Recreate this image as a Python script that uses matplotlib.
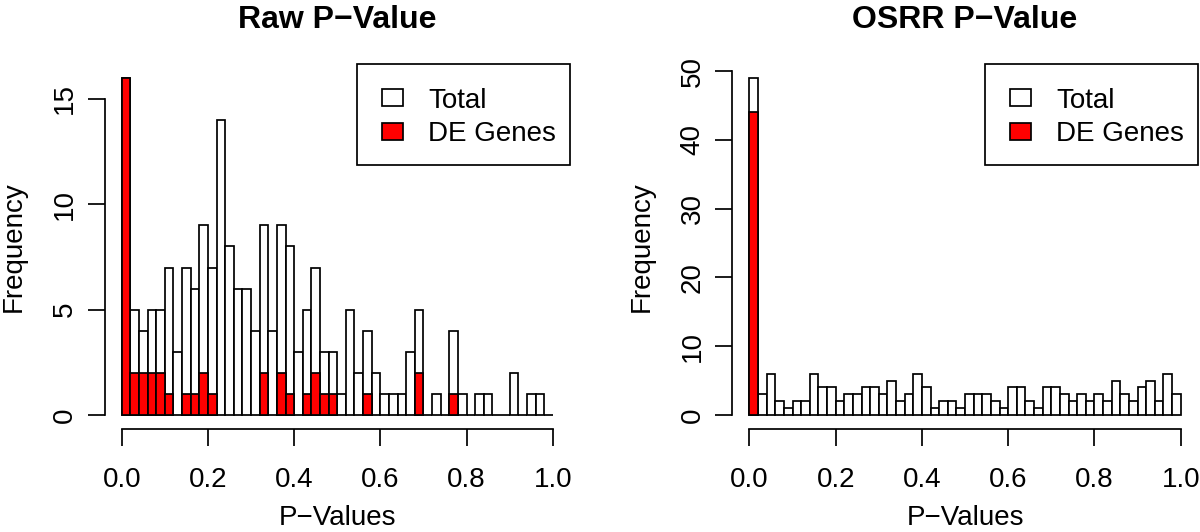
import numpy as np
import matplotlib
matplotlib.use("Agg")
import matplotlib.pyplot as plt
from matplotlib.patches import Rectangle
from matplotlib.transforms import ScaledTranslation, Affine2D
from matplotlib.ticker import FormatStrFormatter

plt.rcParams['font.family'] = ['Liberation Sans', 'DejaVu Sans']

# ---------------- data ----------------
bin_width = 0.02
bin_left = np.round(np.arange(50) * bin_width, 2)

raw_total = [16, 5, 4, 5, 5, 7, 3, 7, 6, 9, 7, 14, 8, 6, 6, 4, 9, 4, 9, 8,
             3, 5, 7, 3, 3, 1, 5, 2, 4, 2, 1, 1, 1, 3, 5, 0, 1, 0, 4, 1,
             0, 1, 1, 0, 0, 2, 0, 1, 1, 0]
raw_de = [16, 2, 2, 2, 2, 1, 0, 1, 1, 2, 1, 0, 0, 0, 0, 0, 2, 0, 2, 1,
          0, 1, 2, 1, 1, 0, 0, 0, 1, 0, 0, 0, 0, 0, 2, 0, 0, 0, 1, 0,
          0, 0, 0, 0, 0, 0, 0, 0, 0, 0]

osrr_total = [49, 3, 6, 2, 1, 2, 2, 6, 4, 4, 2, 3, 3, 4, 4, 3, 5, 2, 3, 6,
              4, 1, 2, 2, 1, 3, 3, 3, 2, 1, 4, 4, 2, 1, 4, 4, 3, 2, 3, 2,
              3, 2, 5, 3, 2, 4, 5, 2, 6, 3]
osrr_de = [44] + [0] * 49

titles = ["Raw P\u2212Value", "OSRR P\u2212Value"]
xlabel = "P\u2212Values"
ylabel = "Frequency"
legend_labels = ["Total", "DE Genes"]
legend_colors = ["white", "#FF0000"]
xticks = [0.0, 0.2, 0.4, 0.6, 0.8, 1.0]
yticks_list = [[0, 5, 10, 15], [0, 10, 20, 30, 40, 50]]

# ---------------- figure ----------------
W, H = 1200, 532
fig = plt.figure(figsize=(W / 100, H / 100), dpi=100)

ax_bottom = (H - 428.5) / H
ax_height = (428.5 - 64.4) / H
ax1 = fig.add_axes([104.5 / W, ax_bottom, 465.5 / W, ax_height])
ax2 = fig.add_axes([732.2 / W, ax_bottom, 465.8 / W, ax_height])

LW = 1.25
FS = 20


def corner_trans(ax):
    # coordinates in pixels (at 100 dpi) relative to the axes' top-right corner
    return (Affine2D().scale(0.01) + fig.dpi_scale_trans
            + ScaledTranslation(1, 1, ax.transAxes))


def draw_legend(ax):
    t = corner_trans(ax)
    ax.add_patch(Rectangle((-213, -100.2), 213, 100.2, transform=t,
                           facecolor='white', edgecolor='black', linewidth=LW,
                           clip_on=False, zorder=5))
    for i, (lab, c) in enumerate(zip(legend_labels, legend_colors)):
        cy = -33.4 * (i + 1)
        ax.add_patch(Rectangle((-188.3, cy - 8.35), 21, 16.7, transform=t,
                               facecolor=c, edgecolor='black', linewidth=LW,
                               clip_on=False, zorder=6))
        ax.text(-141.7, cy - 10.0, lab, transform=t, fontsize=FS,
                ha='left', va='baseline', zorder=7, clip_on=False)


for ax, tot, de, title, yt in zip([ax1, ax2], [raw_total, osrr_total],
                                  [raw_de, osrr_de], titles, yticks_list):
    ax.bar(bin_left, tot, width=bin_width, align='edge', facecolor='white',
           edgecolor='black', linewidth=LW, zorder=2)
    de_arr = np.array(de)
    mask = de_arr > 0
    ax.bar(bin_left[mask], de_arr[mask], width=bin_width, align='edge',
           facecolor='#FF0000', edgecolor='black', linewidth=LW, zorder=3)
    ymax = max(tot)
    ax.set_xlim(-0.04, 1.04)
    ax.set_ylim(-0.04 * ymax, 1.04 * ymax)
    for s in ['top', 'right']:
        ax.spines[s].set_visible(False)
    for s in ['left', 'bottom']:
        ax.spines[s].set_linewidth(LW)
    ax.spines['left'].set_bounds(yt[0], yt[-1])
    ax.spines['bottom'].set_bounds(xticks[0], xticks[-1])
    ax.set_xticks(xticks)
    ax.xaxis.set_major_formatter(FormatStrFormatter('%.1f'))
    ax.set_yticks(yt)
    ax.tick_params(axis='both', direction='out', length=12, width=LW,
                   labelsize=FS)
    ax.tick_params(axis='x', pad=16)
    ax.tick_params(axis='y', pad=7, labelrotation=90)
    for lbl in ax.get_yticklabels():
        lbl.set_va('center')
    ax.set_title(title, fontsize=23, fontweight='bold', y=1.1, pad=0)
    ax.set_xlabel(xlabel, fontsize=FS)
    ax.xaxis.set_label_coords(0.5, -0.21)
    ax.set_ylabel(ylabel, fontsize=FS)
    ax.yaxis.set_label_coords(-0.167, 0.5)
    draw_legend(ax)

fig.savefig("out.png", dpi=100)
